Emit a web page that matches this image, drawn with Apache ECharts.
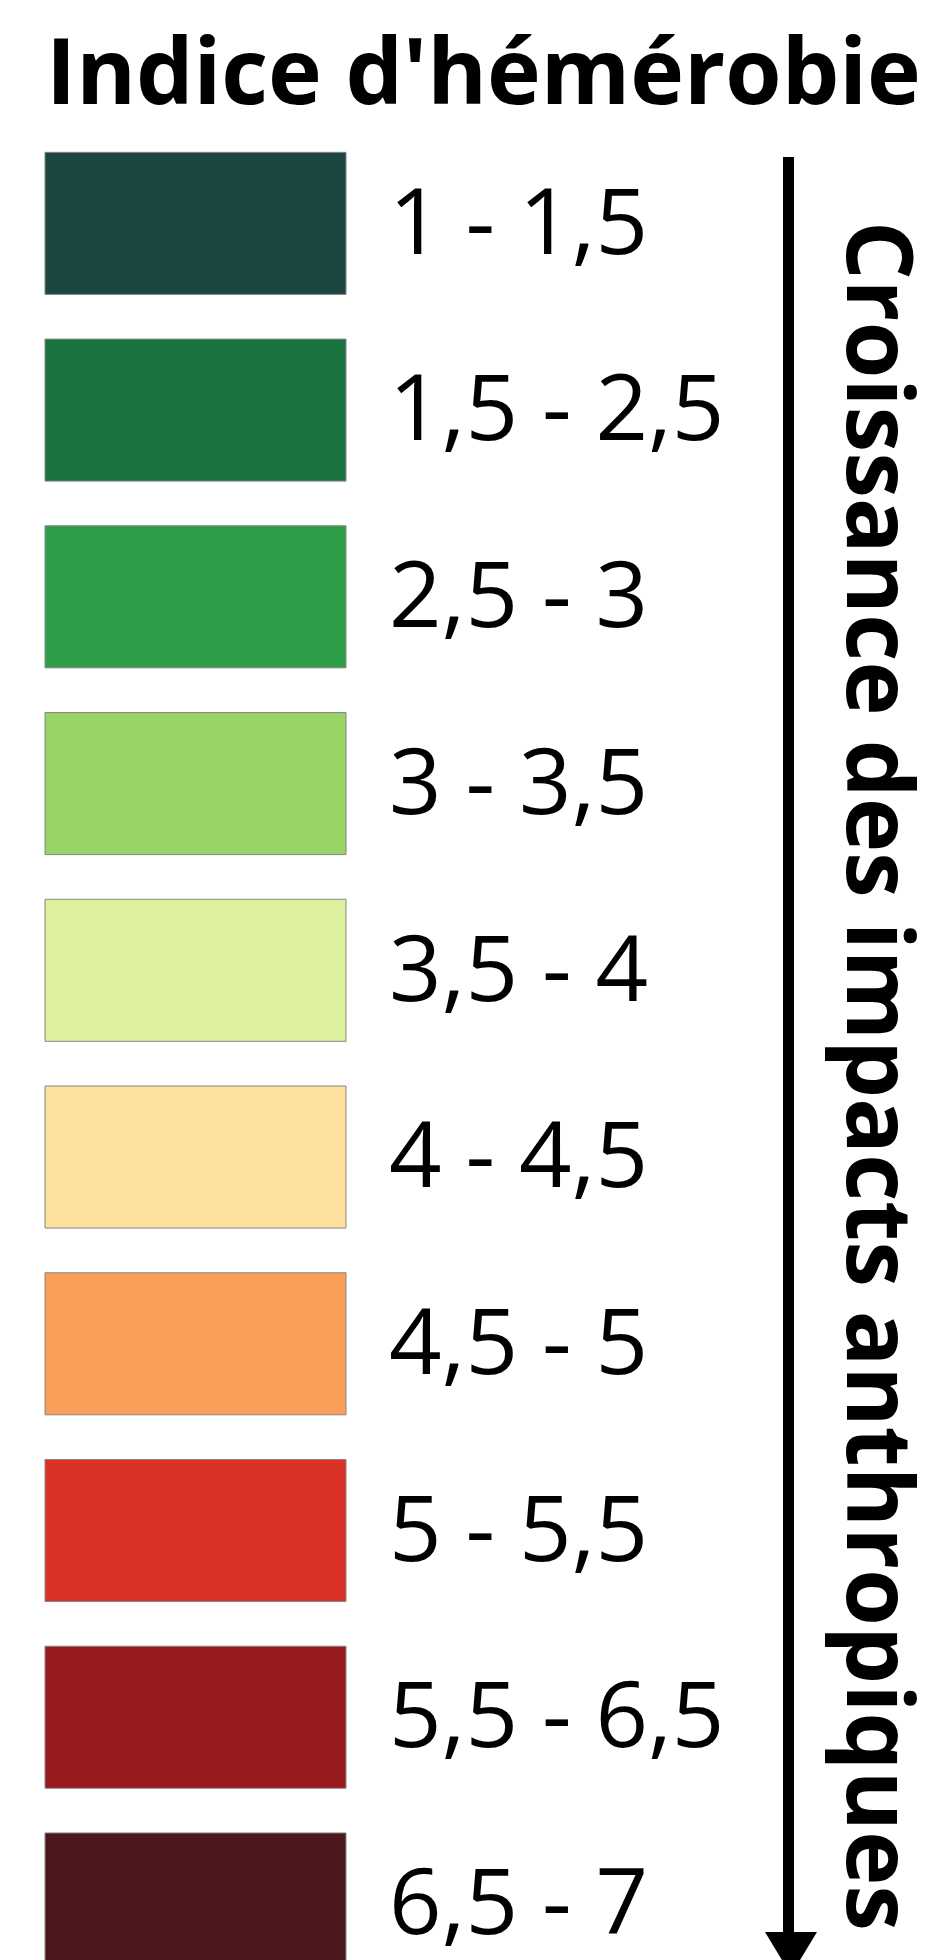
<!DOCTYPE html>
<html>
<head>
<meta charset="utf-8">
<script src="https://cdn.jsdelivr.net/npm/echarts@6/dist/echarts.min.js"></script>
<style>
html,body{margin:0;padding:0;background:#fff;}
#chart{width:933px;height:1960px;}
</style>
</head>
<body>
<div id="chart"></div>
<script>
var titleText = "Indice d'hémérobie";
var axisText = "Croissance des impacts anthropiques";
var categories = ["1 - 1,5", "1,5 - 2,5", "2,5 - 3", "3 - 3,5", "3,5 - 4", "4 - 4,5", "4,5 - 5", "5 - 5,5", "5,5 - 6,5", "6,5 - 7"];
var classColors = ["#1c4641", "#1b7340", "#2e9f48", "#98d366", "#ddf09e", "#fde09d", "#f99e59", "#dc3127", "#961a1e", "#4b191c"];
var swatchValues = [1, 1, 1, 1, 1, 1, 1, 1, 1, 1];

var chart = echarts.init(document.getElementById('chart'), null, {renderer: 'canvas'});
var data = swatchValues.map(function (v, i) { return [v, i]; });

function renderSwatch(params, api) {
  var v = api.value(0);
  var idx = api.value(1);
  var p0 = api.coord([0, idx]);
  var p1 = api.coord([v, idx]);
  var h = api.size([0, 0.7606])[1];
  return {
    type: 'group',
    children: [
      {
        type: 'rect',
        shape: {x: p0[0], y: p0[1] - h / 2, width: p1[0] - p0[0], height: h},
        style: {fill: classColors[idx], stroke: '#858585', lineWidth: 1}
      },
      {
        type: 'text',
        x: p1[0] + 43,
        y: p0[1] + 4,
        style: {
          text: categories[idx],
          fontFamily: 'Open Sans', fontSize: 92, fill: '#000',
          align: 'left', verticalAlign: 'middle'
        }
      }
    ]
  };
}

chart.setOption({
  animation: false,
  backgroundColor: '#ffffff',
  title: {
    text: titleText,
    left: 46,
    top: 33,
    padding: 0,
    textStyle: {fontFamily: 'Open Sans', fontWeight: 'bold', fontSize: 91, color: '#000'}
  },
  grid: {left: 45, width: 301, top: 130, bottom: 0},
  xAxis: {type: 'value', min: 0, max: 1, show: false},
  yAxis: {type: 'value', inverse: true, min: -0.5, max: 9.3, show: false},
  series: [{
    type: 'custom',
    data: data,
    encode: {x: 0, y: 1},
    clip: false,
    renderItem: renderSwatch
  }],
  graphic: [
    {type: 'rect', shape: {x: 783, y: 157, width: 11, height: 1780}, style: {fill: '#000'}},
    {type: 'polygon', shape: {points: [[765, 1932], [817, 1932], [791, 1975]]}, style: {fill: '#000'}},
    {
      type: 'text',
      x: 873, y: 221,
      rotation: -Math.PI / 2,
      style: {
        text: axisText,
        fontFamily: 'Open Sans', fontWeight: 'bold', fontSize: 92,
        fill: '#000', align: 'left', verticalAlign: 'middle'
      }
    }
  ]
});
</script>
</body>
</html>
